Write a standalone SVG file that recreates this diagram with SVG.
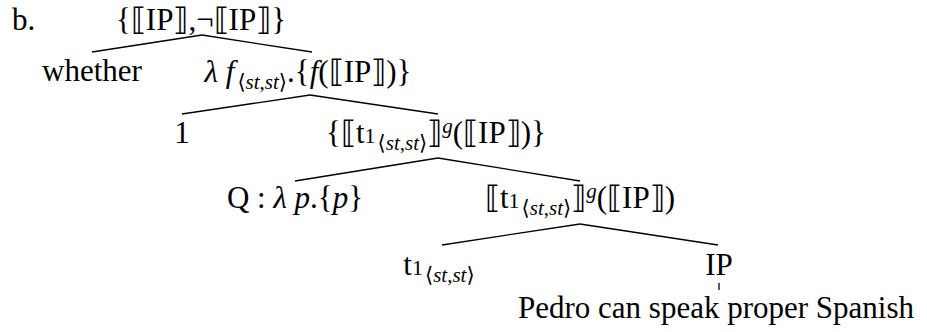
<svg xmlns="http://www.w3.org/2000/svg" width="927" height="332" viewBox="0 0 927 332">
<style>
text{font-family:"Liberation Serif","DejaVu Serif",serif;font-size:31px;fill:#000}
.m{text-anchor:middle}
.i{font-style:italic}
.s{font-size:21px}
.d{font-size:22px}
line{stroke:#000;stroke-width:1.3}
</style>
<rect width="927" height="332" fill="#fff"/>
<g id="connectors">
<line x1="92" y1="52" x2="202" y2="35"/>
<line x1="202" y1="35" x2="312" y2="52"/>
<line x1="182" y1="114" x2="310" y2="95"/>
<line x1="310" y1="95" x2="438" y2="114"/>
<line x1="295" y1="181" x2="438" y2="158"/>
<line x1="438" y1="158" x2="580" y2="181"/>
<line x1="442" y1="245" x2="580" y2="224"/>
<line x1="580" y1="224" x2="718" y2="245"/>
<line x1="719" y1="283" x2="719" y2="290"/>
</g>
<g id="label-b"><text x="12" y="30">b.</text></g>
<g id="n-root"><text class="m" x="201" y="30">{⟦IP⟧,¬⟦IP⟧}</text></g>
<g id="n-whether"><text class="m" x="92" y="81">whether</text></g>
<g id="n-lambdaf"><text class="m" x="308" y="82"><tspan class="i">λ f</tspan><tspan class="s" dx="3" dy="7">⟨<tspan class="i">st</tspan>,<tspan class="i">st</tspan>⟩</tspan><tspan dy="-7">.{</tspan><tspan class="i">f</tspan>(⟦IP⟧)}</text></g>
<g id="n-1"><text class="m" x="182" y="143">1</text></g>
<g id="n-set"><text class="m" x="436" y="143">{⟦t<tspan class="d">1</tspan><tspan class="s" dx="2" dy="7">⟨<tspan class="i">st</tspan>,<tspan class="i">st</tspan>⟩</tspan><tspan dy="-7">⟧</tspan><tspan class="s i" dy="-10">g</tspan><tspan dy="10">(⟦IP⟧)}</tspan></text></g>
<g id="n-Q"><text class="m" x="295" y="208">Q : <tspan class="i">λ p</tspan>.{<tspan class="i">p</tspan>}</text></g>
<g id="n-app"><text class="m" x="580" y="208">⟦t<tspan class="d">1</tspan><tspan class="s" dx="2" dy="7">⟨<tspan class="i">st</tspan>,<tspan class="i">st</tspan>⟩</tspan><tspan dy="-7">⟧</tspan><tspan class="s i" dy="-10">g</tspan><tspan dy="10">(⟦IP⟧)</tspan></text></g>
<g id="n-t1"><text class="m" x="439" y="275">t<tspan class="d">1</tspan><tspan class="s" dx="2" dy="7">⟨<tspan class="i">st</tspan>,<tspan class="i">st</tspan>⟩</tspan></text></g>
<g id="n-IP"><text class="m" x="719" y="275">IP</text></g>
<g id="n-sentence"><text class="m" x="716" y="318">Pedro can speak proper Spanish</text></g>
</svg>
